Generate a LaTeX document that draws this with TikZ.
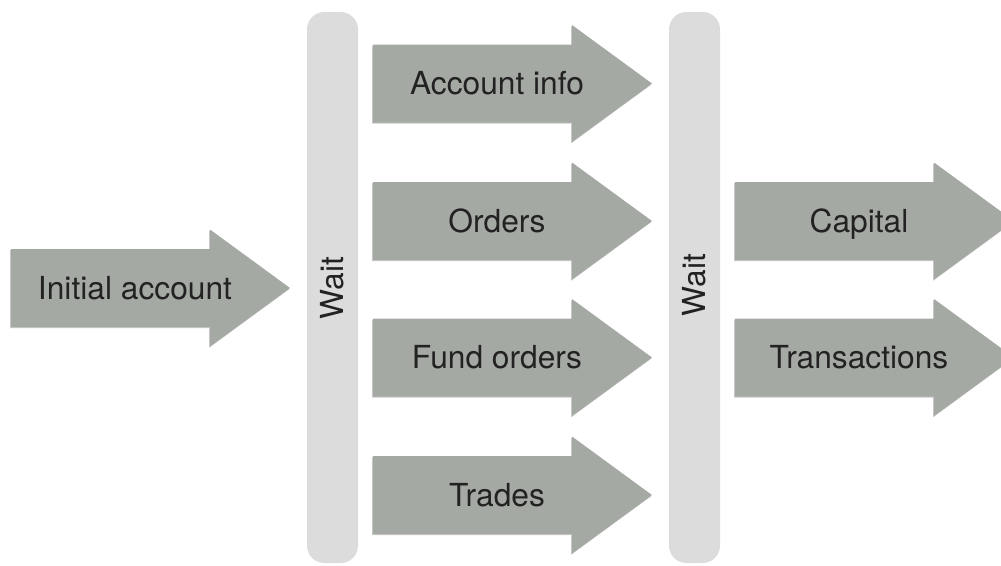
\documentclass[tikz,border=0pt]{standalone}
\usepackage{fontspec}
\setmainfont{TeX Gyre Heros}
\usetikzlibrary{shadows}
\definecolor{arrowgrey}{HTML}{A5A9A3}
\definecolor{waitgrey}{HTML}{DCDCDC}
\definecolor{labelink}{HTML}{222222}
\tikzset{
  bigarrow/.style={fill=arrowgrey, draw=none, drop shadow={shadow xshift=-0.6pt, shadow yshift=-0.9pt, opacity=0.22, fill=black}},
  waitbar/.style={fill=waitgrey, draw=none, rounded corners=13pt},
  lbl/.style={text=labelink, font=\fontsize{23.8}{28}\selectfont, anchor=base, inner sep=0pt},
  waitlbl/.style={text=labelink, font=\fontsize{23.8}{28}\selectfont, anchor=center, inner sep=0pt, rotate=90},
}
\begin{document}
\begin{tikzpicture}[x=0.75pt,y=-0.75pt]
\useasboundingbox (0,0) rectangle (1001,565);
\clip (0,0) rectangle (1001,565);
\path[waitbar] (307,12) rectangle (358,563);
\path[waitbar] (669,12) rectangle (720,563);
\node[waitlbl] (wait1) at (332.5,288) {Wait};
\node[waitlbl] (wait2) at (694.5,285) {Wait};
\foreach \x/\y/\t/\n in {11/288/Initial account/initial, 373/83.5/Account info/acct, 373/221/Orders/orders, 373/357.5/Fund orders/fund, 373/495/Trades/trades, 735/221/Capital/capital, 735/357.5/Transactions/trans} {
  \path[bigarrow] (\x,\y-39) -- (\x+199,\y-39) -- (\x+199,\y-58.5) -- (\x+279,\y) -- (\x+199,\y+58.5) -- (\x+199,\y+39) -- (\x,\y+39) -- cycle;
  \node[lbl] (\n) at (\x+124,\y+11) {\t};
}
\end{tikzpicture}
\end{document}
